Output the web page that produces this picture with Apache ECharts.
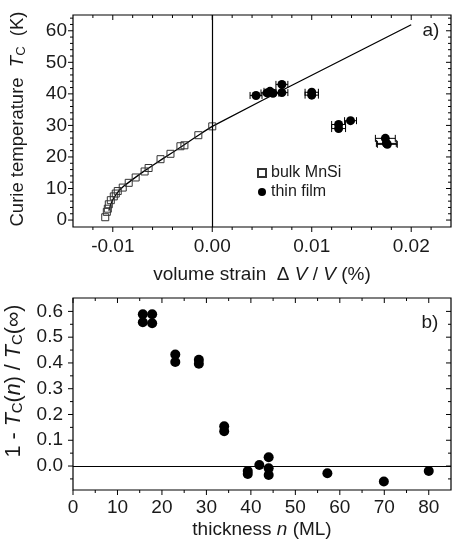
<!DOCTYPE html>
<html><head><meta charset="utf-8">
<script src="https://cdn.jsdelivr.net/npm/echarts@6/dist/echarts.min.js"></script>
<style>html,body{margin:0;padding:0;background:#fff}#c{width:452px;height:548px}</style>
</head><body><div id="c"></div>
<script>
// ---------- panel a) data ----------
const bulkX = [-0.01076, -0.0106, -0.0105, -0.0104, -0.0102, -0.0099, -0.0097, -0.0095, -0.0090, -0.0084, -0.0077, -0.0068, -0.0064, -0.0052, -0.0042, -0.0032, -0.0028, -0.0014, 0.0];
const bulkY = [0.9, 2.6, 3.6, 5.0, 6.3, 7.5, 8.4, 9.2, 10.3, 11.8, 13.5, 15.4, 16.5, 19.3, 21.0, 23.4, 23.7, 26.9, 29.7];
const fitX = [-0.0104, -0.0102, -0.0100, -0.0097, -0.0093, -0.0088, -0.0080, -0.0070, -0.0060, -0.0050, -0.0040, -0.0030, -0.0020, -0.0010, 0.0, 0.005, 0.010, 0.015, 0.020];
const fitY = [3.0, 5.0, 6.5, 8.0, 9.6, 11.0, 12.9, 15.2, 17.3, 19.4, 21.4, 23.5, 25.6, 27.7, 29.7, 37.9, 45.9, 53.9, 61.9];
const filmX = [0.0044, 0.0055, 0.0058, 0.0061, 0.0070, 0.0070, 0.0100, 0.0100, 0.0127, 0.0127, 0.0139, 0.0174, 0.0175, 0.0176];
const filmY = [39.5, 40.3, 40.8, 40.2, 43.0, 40.4, 40.5, 39.6, 30.3, 29.0, 31.5, 25.9, 24.3, 24.0];
const filmErr = [0.0006, 0.0006, 0.0006, 0.0006, 0.0006, 0.0006, 0.00067, 0.00067, 0.0007, 0.0007, 0.0006, 0.001, 0.001, 0.001];
const aXTicks = [-0.01, 0, 0.01, 0.02];
const aXMinor = [-0.012, -0.008, -0.006, -0.004, -0.002, 0.002, 0.004, 0.006, 0.008, 0.012, 0.014, 0.016, 0.018, 0.022];
const aYTicks = [0, 10, 20, 30, 40, 50, 60];
const aYMinor = [2, 4, 6, 8, 12, 14, 16, 18, 22, 24, 26, 28, 32, 34, 36, 38, 42, 44, 46, 48, 52, 54, 56, 58, 62, 64];
// ---------- panel b) data ----------
const thickN = [15.7, 15.7, 17.8, 17.8, 23.0, 23.0, 28.3, 28.3, 34.0, 34.0, 39.3, 39.3, 41.9, 44.0, 44.0, 44.0, 57.2, 69.9, 80.0];
const reduction = [0.589, 0.558, 0.589, 0.554, 0.433, 0.404, 0.412, 0.397, 0.154, 0.135, -0.019, -0.031, 0.004, 0.034, -0.009, -0.035, -0.028, -0.060, -0.019];
const bXTicks = [0, 10, 20, 30, 40, 50, 60, 70, 80];
const bXMinor = [5, 15, 25, 35, 45, 55, 65, 75];
const bYTicks = [0, 0.1, 0.2, 0.3, 0.4, 0.5, 0.6];
const bYMinor = [-0.05, 0.05, 0.15, 0.25, 0.35, 0.45, 0.55];

const FONT = 'Liberation Sans';
const TXT = '#1a1a1a';

function richStyles(size) {
  return {
    n: {fontFamily: FONT, fontSize: size, color: TXT, verticalAlign: 'middle'},
    i: {fontFamily: FONT, fontSize: size, fontStyle: 'italic', color: TXT, verticalAlign: 'middle'},
    s: {fontFamily: FONT, fontSize: Math.round(size * 0.68), color: TXT, padding: [8, 0, 0, 0], verticalAlign: 'middle'}
  };
}

function mainAxis(grid, pos, min, max, labels, fmt, name, nameGap, margin, nameSize, namePad) {
  return {
    type: 'value', gridIndex: grid, position: pos, min: min, max: max,
    splitLine: {show: false},
    axisLine: {show: false, onZero: false},
    axisTick: {show: false},
    axisLabel: {show: true, customValues: labels, formatter: fmt, margin: margin, fontFamily: FONT, fontSize: 19, color: TXT},
    name: name, nameLocation: 'middle', nameGap: nameGap,
    nameTextStyle: {fontFamily: FONT, fontSize: nameSize, color: TXT, padding: namePad || 0, rich: richStyles(nameSize)}
  };
}

// tick marks drawn through the axis scales: outward on bottom/left, inward on top/right
function tickSeries(xi, dim, values, len) {
  return {
    type: 'custom', xAxisIndex: xi, yAxisIndex: xi, silent: true, clip: false, z: 5,
    data: values.map(v => dim === 'x' ? [v, 0] : [0, v]),
    renderItem: function (params, api) {
      const cs = params.coordSys;
      const st = {stroke: '#000', lineWidth: 1};
      if (dim === 'x') {
        const px = api.coord([api.value(0), 0])[0];
        const yb = cs.y + cs.height, yt = cs.y;
        return {type: 'group', children: [
          {type: 'line', shape: {x1: px, y1: yb, x2: px, y2: yb + len}, style: st},
          {type: 'line', shape: {x1: px, y1: yt, x2: px, y2: yt + len}, style: st}
        ]};
      }
      const py = api.coord([0, api.value(1)])[1];
      const xl = cs.x, xr = cs.x + cs.width;
      return {type: 'group', children: [
        {type: 'line', shape: {x1: xl - len, y1: py, x2: xl, y2: py}, style: st},
        {type: 'line', shape: {x1: xr - len, y1: py, x2: xr, y2: py}, style: st}
      ]};
    }
  };
}

const option = {
  animation: false,
  backgroundColor: '#fff',
  grid: [
    {left: 73, top: 15, width: 378, height: 212, outerBoundsMode: 'none', containLabel: false,
      show: true, borderColor: '#000', borderWidth: 1.2, backgroundColor: 'transparent'},
    {left: 73, top: 298, width: 378, height: 192, outerBoundsMode: 'none', containLabel: false,
      show: true, borderColor: '#000', borderWidth: 1.2, backgroundColor: 'transparent'}
  ],
  xAxis: [
    mainAxis(0, 'bottom', -0.014, 0.024, aXTicks, v => v.toFixed(2),
      '{n|volume strain  Δ }{i|V}{n| / }{i|V}{n| (%)}', 38, 10, 19),
    mainAxis(1, 'bottom', 0, 85, bXTicks, v => String(v),
      '{n|thickness }{i|n}{n| (ML)}', 30, 8, 19)
  ],
  yAxis: [
    mainAxis(0, 'left', -2.2, 65, aYTicks, v => String(v),
      '{n|Curie temperature  }{i|T}{s|C}{n|  (K)}', 45, 6, 18.5, [0, 0, 0, 4]),
    mainAxis(1, 'left', -0.093, 0.652, bYTicks, v => v.toFixed(1),
      '{n|1 - }{i|T}{s|C}{n|(}{i|n}{n|) / }{i|T}{s|C}{n|(∞)}', 42, 10, 21.5, [0, 0, 0, 26])
  ],
  legend: {
    orient: 'vertical', left: 252, top: 160, itemWidth: 8, itemHeight: 8, itemGap: 3,
    textStyle: {fontFamily: FONT, fontSize: 16, color: TXT},
    data: ['bulk MnSi', 'thin film'], selectedMode: false
  },
  graphic: [
    {type: 'text', x: 431, y: 31, style: {text: 'a)', fontFamily: FONT, fontSize: 19, fill: TXT, align: 'center', verticalAlign: 'middle'}},
    {type: 'text', x: 430, y: 323, style: {text: 'b)', fontFamily: FONT, fontSize: 19, fill: TXT, align: 'center', verticalAlign: 'middle'}}
  ],
  series: [
    tickSeries(0, 'x', aXTicks, 5), tickSeries(0, 'x', aXMinor, 3),
    tickSeries(0, 'y', aYTicks, 5), tickSeries(0, 'y', aYMinor, 3),
    tickSeries(1, 'x', bXTicks, 5), tickSeries(1, 'x', bXMinor, 3),
    tickSeries(1, 'y', bYTicks, 5), tickSeries(1, 'y', bYMinor, 3),
    {
      type: 'line', xAxisIndex: 0, yAxisIndex: 0, showSymbol: false, silent: true,
      data: fitX.map((x, i) => [x, fitY[i]]),
      lineStyle: {color: '#000', width: 1.3}, z: 2,
      markLine: {silent: true, symbol: ['none', 'none'], label: {show: false},
        lineStyle: {color: '#000', width: 1.2, type: 'solid'}, data: [{xAxis: 0}]}
    },
    {
      name: 'bulk MnSi', type: 'scatter', xAxisIndex: 0, yAxisIndex: 0,
      symbol: 'rect', symbolSize: 7, z: 3,
      itemStyle: {color: 'rgba(255,255,255,0)', borderColor: '#333', borderWidth: 1, opacity: 1},
      data: bulkX.map((x, i) => [x, bulkY[i]])
    },
    {
      type: 'custom', xAxisIndex: 0, yAxisIndex: 0, z: 3, silent: true,
      data: filmX.map((x, i) => [x, filmY[i], filmErr[i]]),
      encode: {x: 0, y: 1},
      renderItem: function (params, api) {
        const x = api.value(0), y = api.value(1), e = api.value(2);
        const a = api.coord([x - e, y]), b = api.coord([x + e, y]);
        const h = 3.5;
        const st = {stroke: '#000', lineWidth: 1};
        return {type: 'group', children: [
          {type: 'line', shape: {x1: a[0], y1: a[1], x2: b[0], y2: b[1]}, style: st},
          {type: 'line', shape: {x1: a[0], y1: a[1] - h, x2: a[0], y2: a[1] + h}, style: st},
          {type: 'line', shape: {x1: b[0], y1: b[1] - h, x2: b[0], y2: b[1] + h}, style: st}
        ]};
      }
    },
    {
      name: 'thin film', type: 'scatter', xAxisIndex: 0, yAxisIndex: 0,
      symbol: 'circle', symbolSize: 9, z: 4,
      itemStyle: {color: '#000', opacity: 1},
      data: filmX.map((x, i) => [x, filmY[i]])
    },
    {
      type: 'scatter', xAxisIndex: 1, yAxisIndex: 1,
      symbol: 'circle', symbolSize: 10, z: 4,
      itemStyle: {color: '#000', opacity: 1},
      data: thickN.map((x, i) => [x, reduction[i]]),
      markLine: {silent: true, symbol: ['none', 'none'], label: {show: false},
        lineStyle: {color: '#000', width: 1.2, type: 'solid'}, data: [{yAxis: 0}]}
    }
  ]
};
const chart = echarts.init(document.getElementById('c'), null, {renderer: 'canvas'});
chart.setOption(option);
</script></body></html>
